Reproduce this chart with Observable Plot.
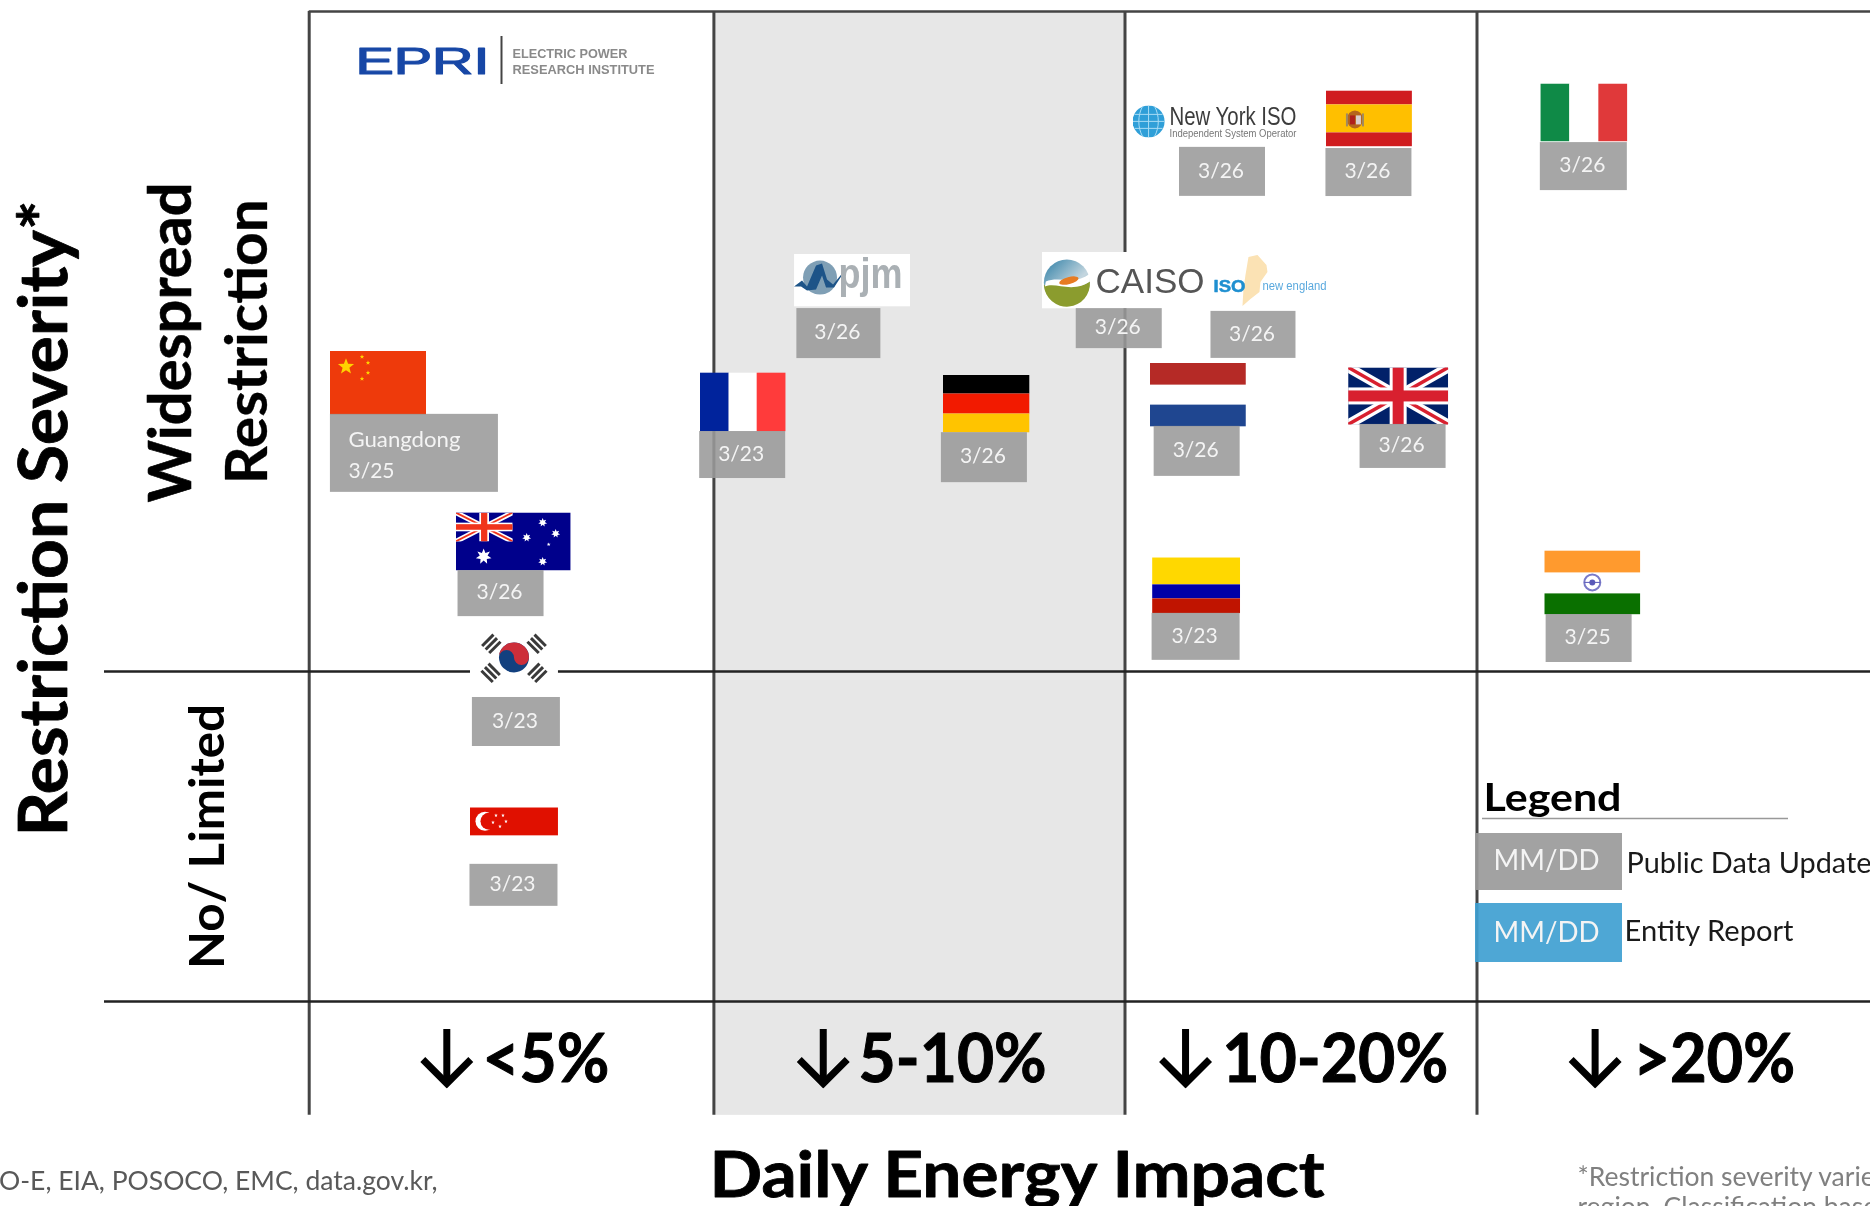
<!DOCTYPE html>
<html><head><meta charset="utf-8">
<style>html,body{margin:0;padding:0;background:#fff;overflow:hidden}svg{display:block;filter:blur(.5px)}</style>
<script src="https://cdn.jsdelivr.net/npm/d3@7"></script>
<script src="https://cdn.jsdelivr.net/npm/@observablehq/plot@0.6"></script>
</head><body>
<script>
// ---------- chart values (x = daily energy impact %, y = restriction severity score) ----------
const entities   = ["China","France","PJM","Germany","CAISO","ISO-NE","NYISO","Spain","Netherlands","UK","Colombia","India","Italy","Australia","South Korea","Singapore"];
const dates      = ["3/25","3/23","3/26","3/26","3/26","3/26","3/26","3/26","3/26","3/26","3/23","3/25","3/26","3/26","3/23","3/23"];
const impact     = [0.85,5.35,6.68,8.31,9.98,14.09,12.53,16.93,12.07,17.76,12.02,23.27,23.03,2.52,2.53,2.53];
const severity   = [187.5,181.7,218.6,181.2,218.6,218.5,266.7,267.6,183.9,183.5,126.1,127,269.4,139.4,104.4,50.2];
const tagImpact  = [1.30,5.35,6.52,8.29,9.93,13.65,12.77,16.93,12.05,17.9,12.02,23.18,23.03,2.37,2.56,2.53];
const tagSeverity= [166.1,165.6,202.4,164.8,203.9,202,251.4,251.2,166.7,168.2,110.5,110,253,123.6,84.7,35.2];
const impactBreaks = [0,5,10,20];
const impactLabels = ["<5%","5-10%","10-20%",">20%"];
const severityBreaks = [0,100];
const legendItems = ["Public Data Update","Entity Report"];

// ---------- scales ----------
const xKnots=[-3.815,0,5,10,20,31.16], xPixels=[0,308.7,713.4,1124.5,1476.5,1870];
const yDomain=[-62.12,303.33], yRange=[1206,0];
const xs=d3.scaleLinear().domain(xKnots).range(xPixels), ys=d3.scaleLinear().domain(yDomain).range(yRange);
const PX=p=>xs.invert(p), PY=p=>ys.invert(p);

// ---------- artwork ----------
const uri=(w,h,b)=>"data:image/svg+xml,"+encodeURIComponent(`<svg xmlns="http://www.w3.org/2000/svg" viewBox="0 0 ${w} ${h}" preserveAspectRatio="none">${b}</svg>`);
const R=(x,y,w,h,f)=>`<rect x="${x}" y="${y}" width="${w}" height="${h}" fill="${f}"/>`;
const star=(cx,cy,r,f,n=5)=>{let p=[];for(let i=0;i<2*n;i++){const a=-Math.PI/2+i*Math.PI/n,q=i%2?r*(n==5?.42:.5):r;p.push((cx+q*Math.cos(a)).toFixed(2)+","+(cy+q*Math.sin(a)).toFixed(2));}return `<polygon points="${p.join(" ")}" fill="${f}"/>`};
const jack=(w,h)=>{const L=(a,b,c,d,s,k)=>`<line x1="${a}" y1="${b}" x2="${c}" y2="${d}" stroke="${s}" stroke-width="${k}"/>`,u=h/57;
 return R(0,0,w,h,"#012169")+L(0,0,w,h,"#fff",10*u)+L(w,0,0,h,"#fff",10*u)+L(0,0,w,h,"#d8202f",3.5*u)+L(w,0,0,h,"#d8202f",3.5*u)
 +R(w/2-8.5*u,0,17*u,h,"#fff")+R(0,h/2-8.5*u,w,17*u,"#fff")+R(w/2-5.5*u,0,11*u,h,"#d8202f")+R(0,h/2-5.5*u,w,11*u,"#d8202f");};
const tri=(x,y,a)=>`<g transform="translate(${x} ${y}) rotate(${a})" fill="#3a3a3a">${[-6,-1,4].map(d=>`<rect x="-8" y="${d}" width="16" height="3"/>`).join("")}</g>`;

const art={
 "China":[96,64,R(0,0,96,64,"#ee3a0b")+star(16,16,8.5,"#ffd200")+star(32,6,2.4,"#ffd200")+star(38,12,2.4,"#ffd200")+star(38,22,2.4,"#ffd200")+star(32,28,2.4,"#ffd200")],
 "France":[86,59,R(0,0,29,59,"#00239c")+R(29,0,29,59,"#fff")+R(57,0,29,59,"#ff3b3b")],
 "Germany":[87,58,R(0,0,87,19,"#000")+R(0,19,87,20,"#f21a00")+R(0,39,87,19,"#ffc400")],
 "Spain":[86,56,R(0,0,86,14,"#d01c1f")+R(0,14,86,28,"#ffbf00")+R(0,42,86,14,"#d01c1f")+`<ellipse cx="29" cy="29" rx="8" ry="9" fill="#b5651d"/><rect x="24" y="25" width="5" height="9" fill="#b0201c"/><rect x="30" y="25" width="5" height="9" fill="#d9cfd0"/><rect x="20" y="23" width="2" height="13" fill="#a08a60"/><rect x="36" y="23" width="2" height="13" fill="#a08a60"/>`],
 "Netherlands":[96,64,R(0,0,96,64,"#fff")+R(0,0,96,22,"#b52a26")+R(0,42,96,22,"#1f4690")],
 "UK":[100,57,jack(100,57)],
 "Colombia":[88,56,R(0,0,88,27,"#ffd800")+R(0,27,88,14,"#0000a8")+R(0,41,88,15,"#c01400")],
 "India":[96,64,R(0,0,96,64,"#fff")+R(0,0,96,22,"#ff9a2e")+R(0,43,96,21,"#0a7000")+`<circle cx="48" cy="32" r="8" fill="none" stroke="#7a7ac8" stroke-width="2"/><circle cx="48" cy="32" r="3" fill="#5a5ab8"/><line x1="40" y1="32" x2="56" y2="32" stroke="#5a5ab8"/>`],
 "Italy":[87,58,R(0,0,29,58,"#0f8a47")+R(29,0,29,58,"#fff")+R(58,0,29,58,"#e0393a")],
 "Australia":[115,58,R(0,0,115,58,"#00008b")+`<svg x="0" y="0" width="57" height="29" viewBox="0 0 100 57" preserveAspectRatio="none">${jack(100,57).replace(/#012169/,"#00008b").replace(/#d8202f/g,"#f0341c")}</svg>`+star(28,44,8,"#fff",7)+star(87,10,4.5,"#fff",7)+star(100,21,4.5,"#fff",7)+star(71,25,4.5,"#fff",7)+star(93,32,2,"#fff")+star(87,49,4.5,"#fff",7)],
 "South Korea":[88,57,R(0,0,88,57,"#fff")+tri(21,15,-45)+tri(67,15,45)+tri(21,44,45)+tri(67,44,-45)+`<circle cx="44" cy="29" r="15" fill="#12407f"/><path d="M29,29A15,15 0 0 1 59,29A7.5,7.5 0 0 1 44,29A7.5,7.5 0 0 0 29,29Z" fill="#cd2e3a"/>`],
 "Singapore":[88,57,R(0,0,88,57,"#fff")+R(0,0,88,28,"#e01000")+`<circle cx="15" cy="14" r="9.5" fill="#fff"/><circle cx="19" cy="14" r="8.5" fill="#e01000"/>`+[[26,8],[33,8],[36,14],[23,15],[30,19]].map(p=>star(p[0],p[1],1.9,"#fff")).join("")],
 "PJM":[116,53,R(0,0,116,53,"#fff")+`<circle cx="26" cy="24" r="17" fill="#7f9fb5"/><path d="M0,33 L8,27 L13,33 L22,12 L28,10 L33,26 L39,31 L53,14 L40,34 L32,34 L28,22 L22,36 L13,37 L7,33Z" fill="#1d5488"/>`],
 "CAISO":[163,57,R(0,0,163,57,"#fff")+`<defs><linearGradient id="s" x1="0" y1="0" x2="1" y2="1"><stop offset="0" stop-color="#2f7fa6"/><stop offset=".6" stop-color="#c4d6df"/><stop offset="1" stop-color="#8fb3c7"/></linearGradient></defs><circle cx="25" cy="31" r="23" fill="url(#s)"/><path d="M2,34 C14,28 30,42 48,30 A23,23 0 0 1 2,34Z" fill="#8b9c2e"/><path d="M4,30 C16,24 34,34 48,22 L48,30 C30,42 14,30 3,35Z" fill="#fff"/><ellipse cx="27" cy="29" rx="10" ry="3.5" fill="#e77b22" transform="rotate(-15 27 29)"/>`],
 "ISO-NE":[113,51,`<path d="M36,2 L45,0 L54,10 L55,17 L48,27 L47,37 L38,44 L30,51 L31,34 L33,20 Z" fill="#fbe2b4"/>`],
 "NYISO":[163,32,`<circle cx="16" cy="16" r="16" fill="#2f9fd8"/><path d="M0,16H32M2,9H30M2,23H30M16,0V32M10,1C5,10 5,22 10,31M22,1C27,10 27,22 22,31" fill="none" stroke="#a8dcf5" stroke-width="1"/>`]
};
const tagSize={ "China":[168,78],"France":[86,47],"PJM":[84,50],"Germany":[86,50],"CAISO":[86,40],"ISO-NE":[85,47],"NYISO":[86,49],"Spain":[86,48],"Netherlands":[86,50],"UK":[86,44],"Colombia":[88,47],"India":[86,48],"Italy":[87,48],"Australia":[86,46],"South Korea":[88,49],"Singapore":[88,42]};
const rows=entities.map((name,i)=>({name,date:dates[i],x:impact[i],y:severity[i],tx:tagImpact[i],ty:tagSeverity[i],src:uri(...art[name])}));
const arrowArt=uri(54,60,`<path d="M27,0V54" stroke="#000" stroke-width="7" fill="none"/><path d="M3,31L27,55L51,31" stroke="#000" stroke-width="7" fill="none"/>`);
const tagRect=(d)=>{const [w,h]=tagSize[d.name];return {x1:PX(xs(d.tx)-w/2),x2:PX(xs(d.tx)+w/2),y1:PY(ys(d.ty)+h/2),y2:PY(ys(d.ty)-h/2)}};

// ---------- annotation layout ----------
const F="Lato, Carlito, sans-serif", A="'Liberation Sans', Arial, sans-serif", N="'Liberation Sans Narrow','Liberation Sans',sans-serif";
const notes=[
 {t:"Restriction Severity*",px:66,py:518,s:66,w:700,r:-90,a:"middle",fit:636,k:.8},
 {t:"Widespread",px:190,py:342,s:60,w:700,r:-90,a:"middle",fit:320,k:.6},
 {t:"Restriction",px:266,py:341,s:58,w:700,r:-90,a:"middle",fit:285,k:.3},
 {t:"No/ Limited",px:223,py:836,s:47,w:700,r:-90,a:"middle",fit:265},
 {t:"Daily Energy Impact",px:709,py:1196,s:64,w:700,fit:615,k:.8},
 {t:"Legend",px:1483,py:810,s:38,w:700,fit:138},
 {t:"Source: ENTSO-E, EIA, POSOCO, EMC, data.gov.kr,",px:437,py:1189,s:26.5,a:"end",f:"#595959"},
 {t:"*Restriction severity varies by",px:1577,py:1185,s:26.5,f:"#808080"},
 {t:"region. Classification based on",px:1577,py:1215,s:26.5,f:"#808080"},
 {t:legendItems[0],px:1626,py:872,s:28,f:"#1a1a1a",fit:245},
 {t:legendItems[1],px:1624,py:940,s:28,f:"#1a1a1a",fit:169},
 {t:"EPRI",px:355,py:73,s:36,ff:A,w:400,f:"#1747a6",fit:134,k:1.2},
 {t:"ELECTRIC POWER",px:512,py:57,s:13.5,ff:A,w:700,f:"#8a8a8a",fit:115},
 {t:"RESEARCH INSTITUTE",px:512,py:73,s:13.5,ff:A,w:700,f:"#8a8a8a",fit:142},
 {t:"New York ISO",px:1169,py:124,s:25,ff:N,f:"#3c3c3c",fit:127},
 {t:"Independent System Operator",px:1169,py:136,s:10,ff:N,f:"#777",fit:127},
 {t:"pjm",px:838,py:287,s:42,ff:A,w:700,f:"#aab0b4",fit:64},
 {t:"CAISO",px:1095,py:292,s:35,ff:A,f:"#555",fit:109},
 {t:"ISO",px:1213,py:291,s:17,ff:A,w:700,f:"#1e8fd0",fit:32,k:.5},
 {t:"new england",px:1262,py:289,s:12,ff:A,f:"#5aa9de",fit:64}
];
const noteMarks=notes.map(n=>Plot.text([n],{x:d=>PX(d.px),y:d=>PY(d.py),text:d=>d.t,fontFamily:n.ff??F,fontSize:n.s,fontWeight:n.w??400,fill:n.f??"#000",stroke:n.k?(n.f??"#000"):"none",strokeWidth:n.k??0,rotate:n.r??0,textAnchor:n.a??"start",lineAnchor:"bottom"}));
const bandLabelX=[2.14,6.76,12.76,24.43], arrowX=[1.70,6.33,11.72,23.35], bandFit=[127,188,226,162];
const fits=Object.fromEntries(notes.filter(n=>n.fit).map(n=>[n.t,n.fit]));
impactLabels.forEach((l,i)=>fits[l]=bandFit[i]);
fits["MM/DD"]=106; fits["Guangdong"]=112;
const right=xKnots.at(-1);

const chart=Plot.plot({
 width:1870,height:1206,margin:0,
 x:{type:"linear",transform:d=>xs(d),domain:[0,1870],range:[0,1870],axis:null},
 y:{domain:yDomain,range:yRange,axis:null},
 style:{background:"#fff",fontFamily:F},
 marks:[
  Plot.rect([{}],{x1:()=>5,x2:()=>10,y1:()=>-34.5,y2:()=>300,fill:"#e7e7e7"}),
  Plot.ruleY([300],{x1:()=>0,x2:()=>right,stroke:"#444",strokeWidth:2.5}),
  Plot.ruleX(impactBreaks,{y1:()=>-34.5,y2:()=>300,stroke:"#444",strokeWidth:3}),
  Plot.ruleY(severityBreaks,{x1:()=>PX(104),x2:()=>right,stroke:"#222",strokeWidth:2.5}),
  Plot.ruleX([PX(501)],{y1:()=>PY(84),y2:()=>PY(36),stroke:"#444",strokeWidth:2}),
  Plot.ruleY([PY(818)],{x1:()=>PX(1482),x2:()=>PX(1788),stroke:"#999",strokeWidth:1.5}),
  Plot.image(rows,{x:"x",y:"y",src:"src",width:d=>art[d.name][0],height:d=>art[d.name][1],preserveAspectRatio:"none"}),
  Plot.rect(rows,{x1:d=>tagRect(d).x1,x2:d=>tagRect(d).x2,y1:d=>tagRect(d).y1,y2:d=>tagRect(d).y2,fill:"#9a9a9a",fillOpacity:.88}),
  Plot.text(rows.filter(d=>d.name!=="China"),{x:"tx",y:"ty",text:"date",fill:"#f4f4f4",fontSize:21,dx:-1.5,dy:-1}),
  Plot.text(["Guangdong"],{x:()=>PX(348),y:()=>PY(446),text:d=>d,fill:"#f4f4f4",fontSize:21,textAnchor:"start",lineAnchor:"bottom"}),
  Plot.text(rows.filter(d=>d.name==="China"),{x:()=>PX(348),y:()=>PY(477),text:"date",fill:"#f4f4f4",fontSize:21,textAnchor:"start",lineAnchor:"bottom"}),
  Plot.rect([{c:"#9a9a9a",a:833,b:890},{c:"#3f9fd1",a:903,b:962}],{x1:()=>PX(1475),x2:()=>PX(1622),y1:d=>PY(d.b),y2:d=>PY(d.a),fill:d=>d.c,fillOpacity:.92}),
  Plot.text([861,933],{x:()=>PX(1546),y:d=>PY(d),text:()=>"MM/DD",fill:"#f4f4f4",fontSize:28}),
  Plot.image(arrowX,{x:d=>d,y:()=>PY(1058),src:()=>arrowArt,width:54,height:60}),
  Plot.text(impactLabels,{x:(d,i)=>bandLabelX[i],y:()=>PY(1081),text:d=>d,fontFamily:F,fontSize:66,fontWeight:700,fill:"#000",stroke:"#000",strokeWidth:1,textAnchor:"start",lineAnchor:"bottom"}),
  ...noteMarks
 ]
});
d3.select(chart).selectAll("text").each(function(){
  const w=fits[this.textContent];
  if(w){this.setAttribute("textLength",w);this.setAttribute("lengthAdjust","spacingAndGlyphs");}
});
document.body.appendChild(chart);
</script>
</body></html>
